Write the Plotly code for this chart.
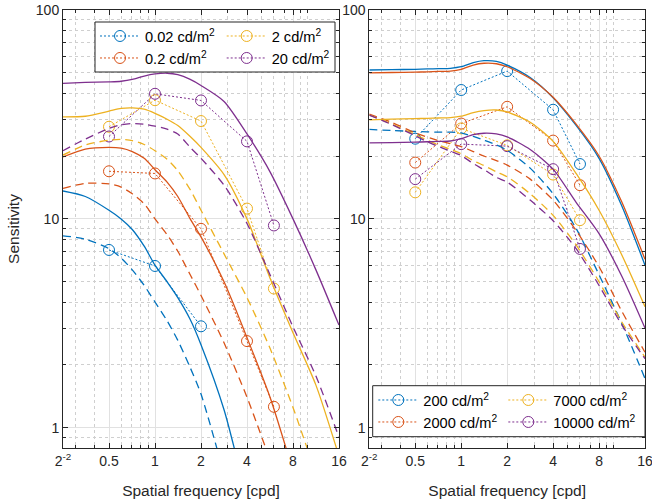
import plotly.graph_objects as go

# ---------------- data ----------------
FREQ_MODEL = [0.25, 0.35, 0.5, 0.6, 0.71, 0.85, 1, 1.2, 1.41, 1.7, 2, 2.83, 4, 5.66, 8, 11.3, 16]
FREQ_MEAS = [0.5, 1, 2, 4, 6]

LUM_LEFT = ["0.02", "0.2", "2", "20"]
LUM_RIGHT = ["200", "2000", "7000", "10000"]

# model A (solid)
A_002 = [13.6, 12.8, 11.0, 10.0, 8.9, 7.4, 6.0, 5.0, 4.2, 3.3, 2.5, 1.22, 0.45]
A_02 = [19.8, 21.6, 22.0, 21.8, 21.0, 19.5, 17.2, 15.0, 12.8, 10.0, 8.2, 5.0, 2.7, 1.4, 0.62]
A_2 = [30.8, 31.0, 32.8, 33.8, 34.0, 33.5, 32.0, 30.0, 28.0, 24.8, 22.0, 16.3, 10.0, 5.2, 2.85, 1.6, 0.73]
A_20 = [44.5, 45.0, 45.3, 45.6, 46.5, 48.3, 49.4, 49.8, 49.0, 46.5, 43.5, 36.5, 25.5, 16.8, 10.0, 5.7, 3.1]
A_200 = [51.6, 51.8, 52.0, 52.2, 52.4, 52.6, 53.5, 56.0, 57.2, 56.8, 54.5, 47.5, 38.0, 28.0, 19.5, 11.5, 6.0]
A_2000 = [50.0, 50.2, 50.4, 50.6, 50.8, 51.0, 52.0, 54.5, 55.6, 55.3, 53.5, 47.0, 38.2, 28.4, 20.0, 12.0, 6.4]
A_7000 = [29.8, 30.0, 30.2, 30.3, 30.4, 30.5, 31.0, 32.3, 33.0, 33.2, 32.5, 29.0, 23.5, 16.5, 11.0, 6.7, 3.8]
A_10000 = [23.1, 23.2, 23.3, 23.4, 23.5, 23.6, 24.2, 25.3, 25.7, 25.5, 24.7, 21.5, 17.3, 12.0, 8.5, 5.3, 3.0]

# model B (dashed)
B_002 = [8.3, 8.0, 7.2, 6.5, 5.7, 4.8, 4.0, 3.25, 2.62, 1.94, 1.45, 0.6]
B_02 = [14.0, 14.8, 14.7, 14.2, 13.2, 11.8, 10.0, 8.4, 7.0, 5.4, 4.3, 2.55, 1.4, 0.7]
B_2 = [20.2, 22.6, 23.8, 24.0, 23.7, 22.7, 21.2, 19.3, 17.0, 13.8, 11.0, 6.8, 4.2, 2.4, 1.25, 0.6]
B_20 = [21.2, 24.1, 27.1, 28.2, 28.6, 28.4, 27.8, 26.9, 25.5, 22.0, 19.5, 14.5, 9.5, 5.4, 3.04, 1.77, 0.9]
B_200 = [26.8, 26.5, 26.2, 26.1, 26.0, 26.0, 25.8, 24.8, 23.8, 22.6, 21.3, 17.5, 13.2, 9.0, 5.4, 3.15, 1.72]
B_2000 = [31.7, 29.0, 25.8, 24.6, 23.7, 22.9, 22.2, 21.0, 20.0, 19.0, 18.1, 15.5, 12.3, 8.8, 5.9, 3.6, 2.3]
B_7000 = [31.4, 28.5, 25.3, 23.8, 22.6, 21.5, 20.5, 19.0, 18.0, 16.8, 15.9, 13.2, 10.4, 7.5, 5.0, 3.2, 2.18]
B_10000 = [31.4, 28.3, 25.0, 23.4, 22.2, 21.1, 20.1, 18.4, 17.2, 15.8, 15.0, 12.3, 9.8, 7.2, 4.8, 3.1, 2.14]

# measurements (dotted + circles)
M_002 = [7.1, 5.95, 3.06]
M_02 = [16.9, 16.5, 8.96, 2.6, 1.26]
M_2 = [27.6, 37.0, 29.4, 11.2, 4.64]
M_20 = [24.8, 39.7, 36.9, 23.5, 9.3]
M_200 = [24.2, 41.4, 51.0, 33.3, 18.3]
M_2000 = [18.6, 28.6, 34.4, 23.7, 14.5]
M_7000 = [13.4, 27.1, 22.5, 16.3, 9.86]
M_10000 = [15.5, 22.8, 22.3, 17.3, 7.18]

X_TICKS = [0.25, 0.5, 1, 2, 4, 8, 16]
X_TICKTEXT = ["2<sup>-2</sup>", "0.5", "1", "2", "4", "8", "16"]
X_MINOR = [0.3, 0.4, 0.6, 0.7, 0.8, 0.9, 3, 5, 6, 7, 9, 10]
Y_TICKS = [1, 10, 100]
Y_TICKTEXT = ["1", "10", "100"]
Y_MINOR = [0.9, 2, 3, 4, 5, 6, 7, 8, 9, 20, 30, 40, 50, 60, 70, 80, 90]

COLORS = ["#0072BD", "#D95319", "#EDB120", "#7E2F8E"]

panels = [
    ("x", "y", LUM_LEFT, [A_002, A_02, A_2, A_20], [B_002, B_02, B_2, B_20],
     [M_002, M_02, M_2, M_20], ["legend", "legend", "legend2", "legend2"]),
    ("x2", "y2", LUM_RIGHT, [A_200, A_2000, A_7000, A_10000], [B_200, B_2000, B_7000, B_10000],
     [M_200, M_2000, M_7000, M_10000], ["legend3", "legend3", "legend4", "legend4"]),
]

fig = go.Figure()
for xa, ya, lums, As, Bs, Ms, legs in panels:
    for i in range(4):
        c = COLORS[i]
        fig.add_trace(go.Scatter(
            x=FREQ_MEAS[:len(Ms[i])], y=Ms[i], xaxis=xa, yaxis=ya,
            mode="lines+markers", name=lums[i] + " cd/m<sup>2</sup>",
            line=dict(color=c, width=1, dash="2px,2px"),
            marker=dict(symbol="circle-open", size=11, color=c, line=dict(width=1, color=c)),
            legend=legs[i], showlegend=True))
    for i in range(4):
        c = COLORS[i]
        fig.add_trace(go.Scatter(
            x=FREQ_MODEL[:len(As[i])], y=As[i], xaxis=xa, yaxis=ya, mode="lines",
            line=dict(color=c, width=1.3, shape="spline", smoothing=0.7),
            showlegend=False, hoverinfo="skip"))
        fig.add_trace(go.Scatter(
            x=FREQ_MODEL[:len(Bs[i])], y=Bs[i], xaxis=xa, yaxis=ya, mode="lines",
            line=dict(color=c, width=1.3, dash="8px,5px", shape="spline", smoothing=0.7),
            showlegend=False, hoverinfo="skip"))

FONT = "Liberation Sans, Arial, Helvetica, sans-serif"
TXT = "#262626"

def xaxis(domain, anchor):
    return dict(
        type="log", range=[-0.60206, 1.20412], domain=domain, anchor=anchor,
        tickmode="array", tickvals=X_TICKS, ticktext=X_TICKTEXT,
        ticks="inside", ticklen=5, tickcolor=TXT, tickwidth=1,
        showline=True, linecolor=TXT, linewidth=1, mirror="ticks",
        showgrid=True, gridcolor="#e1e1e1", gridwidth=1, zeroline=False,
        minor=dict(tickmode="array", tickvals=X_MINOR, ticks="inside", ticklen=3,
                   tickcolor=TXT, showgrid=True, gridcolor="#cfcfcf", griddash="dot", gridwidth=1),
        tickfont=dict(size=14, color=TXT, family=FONT),
        ticklabeloverflow="allow",
        title=dict(text="Spatial frequency [cpd]", font=dict(size=15.5, color=TXT, family=FONT), standoff=17),
    )

def yaxis(anchor, title):
    d = dict(
        type="log", range=[-0.09691, 2.0], domain=[0, 1], anchor=anchor,
        tickmode="array", tickvals=Y_TICKS, ticktext=Y_TICKTEXT,
        ticks="inside", ticklen=5, tickcolor=TXT, tickwidth=1,
        showline=True, linecolor=TXT, linewidth=1, mirror="ticks",
        showgrid=True, gridcolor="#e1e1e1", gridwidth=1, zeroline=False,
        minor=dict(tickmode="array", tickvals=Y_MINOR, ticks="inside", ticklen=3,
                   tickcolor=TXT, showgrid=True, gridcolor="#cfcfcf", griddash="dot", gridwidth=1),
        tickfont=dict(size=14, color=TXT, family=FONT),
        ticklabeloverflow="allow",
    )
    if title:
        d["title"] = dict(text=title, font=dict(size=15.5, color=TXT, family=FONT), standoff=12)
    return d

L, R, T, B = 63, 7, 10, 54
W, H = 652, 502
PW, PH = W - L - R, H - T - B

def px(xp):
    return (xp - L) / PW

def py(yp):
    return (H - B - yp) / PH

leg_common = dict(xanchor="left", yanchor="top", bgcolor="rgba(0,0,0,0)", borderwidth=0,
                  font=dict(size=14.6, color="#000000", family=FONT), itemwidth=40,
                  orientation="v", tracegroupgap=0)

fig.update_layout(
    width=W, height=H, margin=dict(l=L, r=R, t=T, b=B, autoexpand=False),
    paper_bgcolor="white", plot_bgcolor="white",
    font=dict(family=FONT, color=TXT),
    xaxis=xaxis([0, px(339)], "y"),
    yaxis=yaxis("x", "Sensitivity"),
    xaxis2=xaxis([px(369.3), 1], "y2"),
    yaxis2=yaxis("x2", None),
    legend=dict(x=px(95), y=py(20), **leg_common),
    legend2=dict(x=px(221.7), y=py(20), **leg_common),
    legend3=dict(x=px(373.3), y=py(384), **leg_common),
    legend4=dict(x=px(503.3), y=py(384), **leg_common),
    shapes=[
        dict(type="rect", xref="paper", yref="paper", x0=px(95), x1=px(335), y0=py(72), y1=py(22),
             line=dict(color=TXT, width=1), fillcolor="white", layer="above"),
        dict(type="rect", xref="paper", yref="paper", x0=px(372.7), x1=px(645), y0=py(436.7), y1=py(385.7),
             line=dict(color=TXT, width=1), fillcolor="white", layer="above"),
    ],
    showlegend=True,
)

fig.write_html("out.html", config={"displayModeBar": False},
               post_script="document.body.style.margin='0';document.body.style.padding='0';")
